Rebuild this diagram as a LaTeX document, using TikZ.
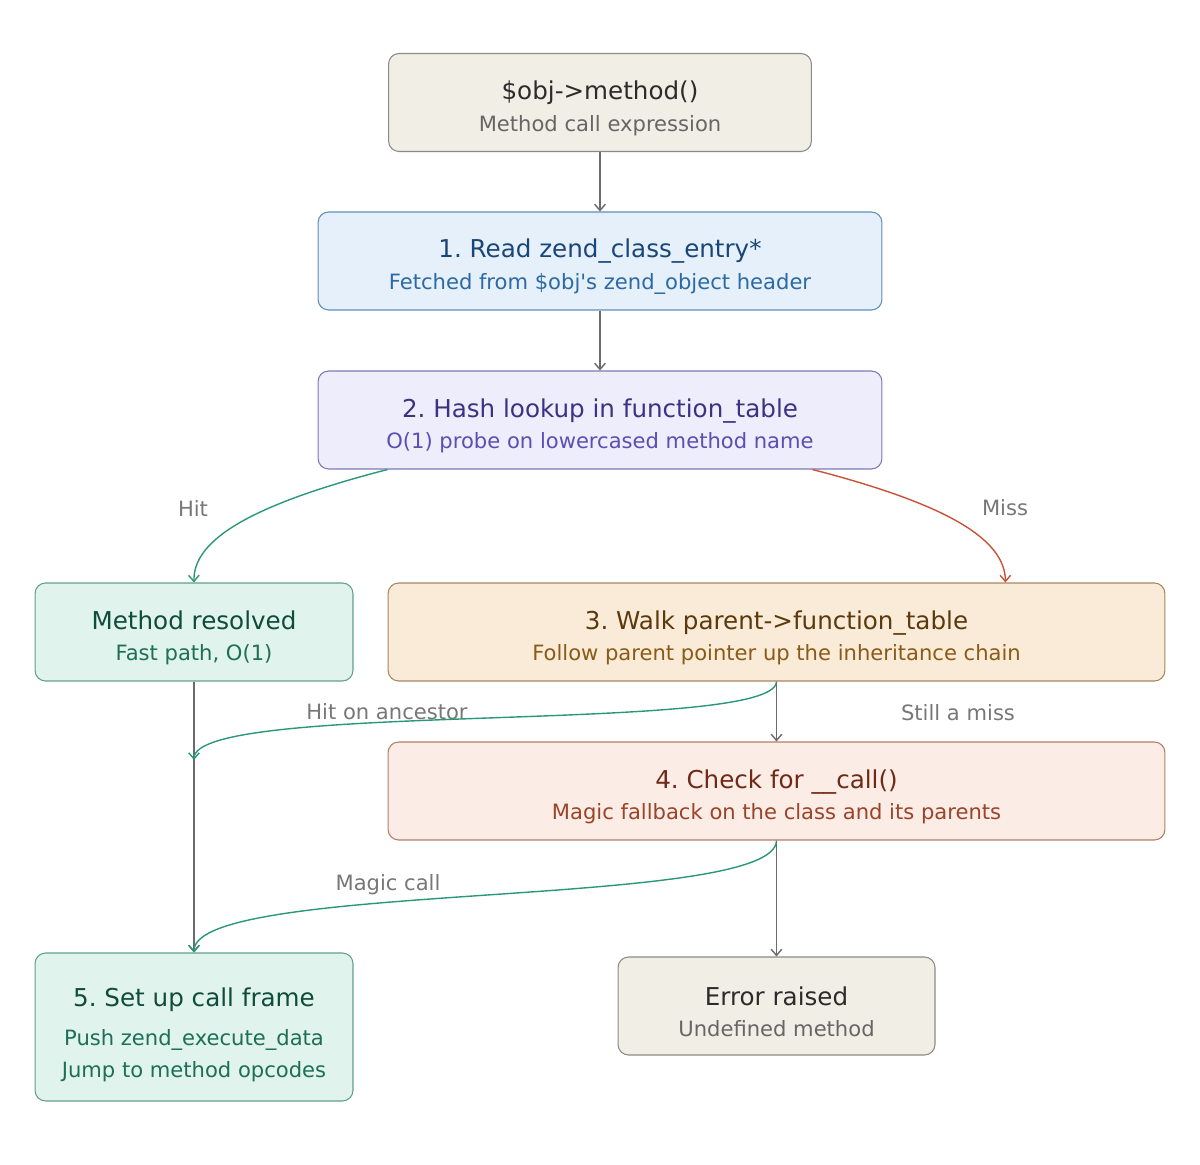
\documentclass[tikz,border=0pt]{standalone}
\usepackage{fontspec}
\setmainfont{DejaVu Sans}
\usetikzlibrary{arrows.meta,calc}
\frenchspacing

\definecolor{neutralfill}{HTML}{F1EEE6}
\definecolor{neutralline}{HTML}{8C8A84}
\definecolor{neutraltitle}{HTML}{2B2B2B}
\definecolor{neutralsub}{HTML}{666666}
\definecolor{bluefill}{HTML}{E5F0FA}
\definecolor{blueline}{HTML}{5E8FB8}
\definecolor{bluetitle}{HTML}{1A4677}
\definecolor{bluesub}{HTML}{2C6AA3}
\definecolor{purplefill}{HTML}{EEEDFB}
\definecolor{purpleline}{HTML}{8078B5}
\definecolor{purpletitle}{HTML}{3A3384}
\definecolor{purplesub}{HTML}{5A4FB2}
\definecolor{greenfill}{HTML}{E0F3EC}
\definecolor{greenline}{HTML}{5F9F88}
\definecolor{greentitle}{HTML}{0F4C3A}
\definecolor{greensub}{HTML}{1D6F56}
\definecolor{orangefill}{HTML}{FAEBD8}
\definecolor{orangeline}{HTML}{A9855C}
\definecolor{orangetitle}{HTML}{5A3A0C}
\definecolor{orangesub}{HTML}{8A5A16}
\definecolor{redfill}{HTML}{FBECE6}
\definecolor{redline}{HTML}{B27C68}
\definecolor{redtitle}{HTML}{6E2A16}
\definecolor{redsub}{HTML}{9A4429}
\definecolor{edgegray}{HTML}{6B6B6B}
\definecolor{edgegreen}{HTML}{2A9878}
\definecolor{edgered}{HTML}{C65537}
\definecolor{labelgray}{HTML}{777777}

\newcommand{\ttl}[1]{{\fontsize{14}{18}\selectfont\rule{0pt}{17.4pt}#1}}
\newcommand{\ttlhigh}[1]{{\fontsize{14}{18}\selectfont\rule{0pt}{19.6pt}#1}}
\newcommand{\sbt}[1]{{\fontsize{12}{18}\selectfont #1}}

\begin{document}
\begin{tikzpicture}[x=0.02cm,y=-0.02cm,
		box/.style={draw,rounded corners=6pt,line width=0.6pt,align=center,
			minimum height=1.96cm,inner sep=0pt,font=\fontsize{12}{18}\selectfont},
		neutralbox/.style={box,fill=neutralfill,draw=neutralline},
		bluebox/.style={box,fill=bluefill,draw=blueline},
		purplebox/.style={box,fill=purplefill,draw=purpleline},
		greenbox/.style={box,fill=greenfill,draw=greenline},
		orangebox/.style={box,fill=orangefill,draw=orangeline},
		redbox/.style={box,fill=redfill,draw=redline},
		flow/.style={line width=0.8pt,-{Straight Barb[length=3.5pt,width=6pt]}},
		lbl/.style={text=labelgray,font=\fontsize{12}{14}\selectfont}]
		\useasboundingbox (0,0) rectangle (1200,1165);
		
		\node[neutralbox,minimum width=8.46cm] (call) at (600,102.5) {\ttl{\color{neutraltitle}\$obj->method()}\\\sbt{\color{neutralsub}Method call expression}};
		
		\node[bluebox,minimum width=11.28cm] (read) at (600,261) {\ttl{\color{bluetitle}1. Read zend\_class\_entry*}\\\sbt{\color{bluesub}Fetched from \$obj\textquotesingle s zend\_object header}};
		\node[purplebox,minimum width=11.28cm] (hash) at (600,420) {\ttl{\color{purpletitle}2. Hash lookup in function\_table}\\\sbt{\color{purplesub}O(1) probe on lowercased method name}};
		
		\node[greenbox,minimum width=6.36cm] (resolved) at (194,632) {\ttl{\color{greentitle}Method resolved}\\\sbt{\color{greensub}Fast path, O(1)}};
		\node[orangebox,minimum width=15.54cm] (walk) at (776.5,632) {\ttl{\color{orangetitle}3. Walk parent->function\_table}\\\sbt{\color{orangesub}Follow parent pointer up the inheritance chain}};
		
		\node[redbox,minimum width=15.54cm] (magic) at (776.5,791) {\ttl{\color{redtitle}4. Check for \_\_call()}\\\sbt{\color{redsub}Magic fallback on the class and its parents}};
		
		\node[greenbox,minimum width=6.36cm,minimum height=2.96cm] (frame) at (194,1027) {\ttlhigh{\color{greentitle}5. Set up call frame}\\[4pt]\sbt{\color{greensub}Push zend\_execute\_data}\\\sbt{\color{greensub}Jump to method opcodes}};
		\node[neutralbox,minimum width=6.34cm] (error) at (776.5,1006) {\ttl{\color{neutraltitle}Error raised}\\\sbt{\color{neutralsub}Undefined method}};
		
		\coordinate (ancestor) at (194,760);
		
		\node[lbl] (hitlbl) at (193,508) {Hit};
		\node[lbl] (misslbl) at (1005,508) {Miss};
		\node[lbl] (ancestorlbl) at (387,712) {Hit on ancestor};
		\node[lbl] (stilllbl) at (958,713) {Still a miss};
		\node[lbl] (magiclbl) at (388,885) {Magic call};
		
		\draw[flow,edgegray] (call) -- (read);
		\draw[flow,edgegray] (read) -- (hash);
		\draw[flow,edgegreen] ($(hash.south west)+(70,0)$) .. controls (250,505) and (193,540) .. (resolved.north);
		\draw[flow,edgered] ($(hash.south east)+(-70,0)$) .. controls (950,505) and (1005,540) .. ($(walk.north east)+(-160,0)$);
		\draw[flow,edgegray] (resolved) -- (frame);
		\draw[flow,edgegreen] (walk.south) .. controls (776,735) and (194,700) .. (ancestor);
		\draw[flow,edgegray] (walk) -- (magic);
		\draw[flow,edgegreen] (magic.south) .. controls (776,910) and (194,880) .. (frame.north);
		\draw[flow,edgegray] (magic) -- (error);
	\end{tikzpicture}
\end{document}
